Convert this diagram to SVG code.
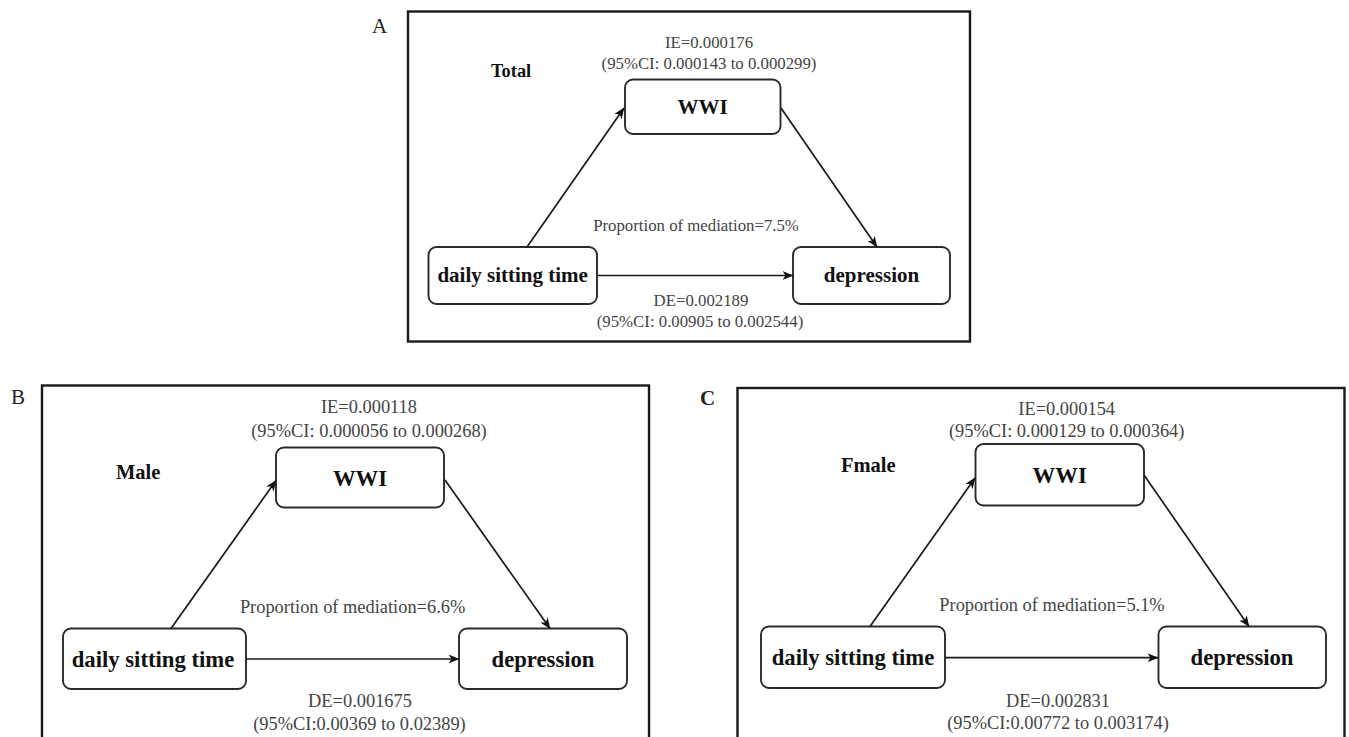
<svg xmlns="http://www.w3.org/2000/svg" width="1349" height="737" viewBox="0 0 1349 737">
<defs>
<style>
text{font-family:"Liberation Serif","Times New Roman",serif;}
.frame{fill:none;stroke:#1a1a1a;stroke-width:2.4;}
.box{fill:#fff;stroke:#2a2a2a;stroke-width:1.9;}
.lbl{font-size:21px;fill:#222;}
.nodeA{font-size:21px;font-weight:bold;fill:#111;text-anchor:middle;}
.nodeB{font-size:22.7px;font-weight:bold;fill:#111;text-anchor:middle;}
.smA{font-size:16.8px;fill:#444;text-anchor:middle;}
.smB{font-size:18.4px;fill:#444;text-anchor:middle;}
.grpA{font-size:18.4px;font-weight:bold;fill:#111;}
.grpB{font-size:20.5px;font-weight:bold;fill:#111;}
.conn line{stroke:#1a1a1a;stroke-width:1.7;marker-end:url(#arr);}
</style>
<marker id="arr" viewBox="0 0 11 9" refX="10.5" refY="4.5" markerWidth="11" markerHeight="9" markerUnits="userSpaceOnUse" orient="auto">
<path d="M0,0 L11,4.5 L0,9 L3,4.5 z" fill="#111"/>
</marker>
</defs>
<rect width="1349" height="737" fill="#fff"/>

<!-- Panel A -->
<g id="panelA">
<text class="lbl" x="372" y="33">A</text>
<rect class="frame" x="408" y="11.5" width="562" height="330"/>
<text class="grpA" x="491" y="77">Total</text>
<text class="smA" x="709" y="47.5">IE=0.000176</text>
<text class="smA" x="709" y="68.5">(95%CI: 0.000143 to 0.000299)</text>
<text class="smA" x="696" y="231">Proportion of mediation=7.5%</text>
<text class="smA" x="701" y="306">DE=0.002189</text>
<text class="smA" x="700" y="326.5">(95%CI: 0.00905 to 0.002544)</text>
</g>
<g id="A-WWI"><rect class="box" x="625" y="79.5" width="155.5" height="54.5" rx="8"/><text class="nodeA" x="702.7" y="114">WWI</text></g>
<g id="A-sitting"><rect class="box" x="428.5" y="247" width="168.5" height="57" rx="8"/><text class="nodeA" x="512.7" y="282">daily sitting time</text></g>
<g id="A-depression"><rect class="box" x="793" y="247" width="157" height="57" rx="8"/><text class="nodeA" x="871.5" y="282">depression</text></g>
<g id="A-connectors" class="conn">
<line x1="527" y1="247" x2="624" y2="108"/>
<line x1="781" y1="108" x2="877" y2="247"/>
<line x1="597" y1="275.5" x2="793" y2="275.5"/>
</g>

<!-- Panel B -->
<g id="panelB">
<text class="lbl" x="11" y="404">B</text>
<rect class="frame" x="42" y="385.5" width="607" height="360"/>
<text class="grpB" x="116" y="478.5">Male</text>
<text class="smB" x="369" y="413">IE=0.000118</text>
<text class="smB" x="369" y="437">(95%CI: 0.000056 to 0.000268)</text>
<text class="smB" x="352.6" y="613">Proportion of mediation=6.6%</text>
<text class="smB" x="360" y="707">DE=0.001675</text>
<text class="smB" x="359.5" y="729.5">(95%CI:0.00369 to 0.02389)</text>
</g>
<g id="B-WWI"><rect class="box" x="276" y="447.5" width="168" height="60" rx="8"/><text class="nodeB" x="360" y="485.5">WWI</text></g>
<g id="B-sitting"><rect class="box" x="63" y="628.5" width="183" height="60.5" rx="8"/><text class="nodeB" x="153" y="666.5">daily sitting time</text></g>
<g id="B-depression"><rect class="box" x="459" y="628.5" width="168" height="60.5" rx="8"/><text class="nodeB" x="543" y="666.5">depression</text></g>
<g id="B-connectors" class="conn">
<line x1="171" y1="628.5" x2="276" y2="480.5"/>
<line x1="445" y1="480" x2="550" y2="628.5"/>
<line x1="246" y1="659" x2="459" y2="659"/>
</g>

<!-- Panel C -->
<g id="panelC">
<text class="lbl" x="700" y="405" font-weight="bold">C</text>
<rect class="frame" x="737.5" y="388" width="607" height="360"/>
<text class="grpB" x="841" y="472">Fmale</text>
<text class="smB" x="1066.7" y="414.5">IE=0.000154</text>
<text class="smB" x="1066.7" y="437">(95%CI: 0.000129 to 0.000364)</text>
<text class="smB" x="1052" y="610.5">Proportion of mediation=5.1%</text>
<text class="smB" x="1058" y="706.5">DE=0.002831</text>
<text class="smB" x="1058" y="729">(95%CI:0.00772 to 0.003174)</text>
</g>
<g id="C-WWI"><rect class="box" x="975.5" y="444" width="168.5" height="61.5" rx="8"/><text class="nodeB" x="1059.7" y="483">WWI</text></g>
<g id="C-sitting"><rect class="box" x="761" y="626.5" width="184" height="61.5" rx="8"/><text class="nodeB" x="853" y="665">daily sitting time</text></g>
<g id="C-depression"><rect class="box" x="1158.5" y="626.5" width="167.5" height="61.5" rx="8"/><text class="nodeB" x="1242" y="665">depression</text></g>
<g id="C-connectors" class="conn">
<line x1="870" y1="626.5" x2="975" y2="478"/>
<line x1="1144" y1="475" x2="1249" y2="626.5"/>
<line x1="945" y1="657.7" x2="1158" y2="657.7"/>
</g>
</svg>
